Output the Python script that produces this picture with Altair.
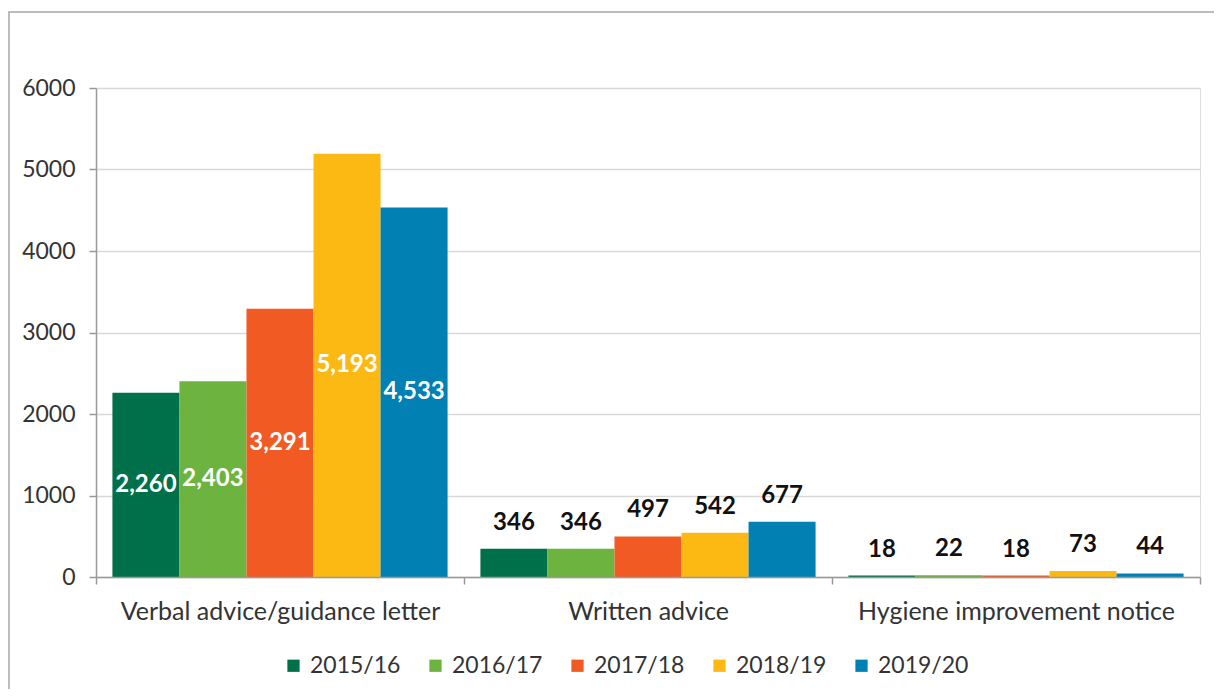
import altair as alt
import pandas as pd

categories = ["Verbal advice/guidance letter", "Written advice", "Hygiene improvement notice"]
years = ["2015/16", "2016/17", "2017/18", "2018/19", "2019/20"]
verbal = [2260, 2403, 3291, 5193, 4533]
written = [346, 346, 497, 542, 677]
hygiene = [18, 22, 18, 73, 44]
colors = ["#00704A", "#6DB33F", "#F15A22", "#FDB913", "#0080B3"]
y_ticks = [0, 1000, 2000, 3000, 4000, 5000, 6000]

rows = []
for cat, vals in zip(categories, [verbal, written, hygiene]):
    for yr, v in zip(years, vals):
        rows.append({"category": cat, "year": yr, "value": v})
df = pd.DataFrame(rows)

W, H = 1104, 489
FONT = "Lato"

x_enc = alt.X("category:N", sort=categories, title=None,
              scale=alt.Scale(paddingInner=0, paddingOuter=0),
              axis=alt.Axis(labelAngle=0, tickBand="extent", tickSize=7, tickColor="#999999",
                            tickWidth=1.5, domainColor="#999999", domainWidth=1.5,
                            labelFontSize=25, labelColor="#333333", labelPadding=15,
                            labelLimit=0, grid=False, labelFont=FONT, zindex=1))
xo_enc = alt.XOffset("year:N", sort=years, scale=alt.Scale(paddingOuter=0.245, paddingInner=0))

base = alt.Chart(df)

bars = base.mark_bar().encode(
    x=x_enc,
    xOffset=xo_enc,
    y=alt.Y("value:Q", title=None,
            scale=alt.Scale(domain=[0, 6000], nice=False),
            axis=alt.Axis(values=y_ticks, format="d", tickSize=7, tickColor="#999999",
                          tickWidth=1.5, domainColor="#999999", domainWidth=1.5,
                          gridColor="#D9D9D9", gridWidth=1.5, labelFontSize=23,
                          labelColor="#333333", labelPadding=14, labelFont=FONT)),
    color=alt.Color("year:N", sort=years, scale=alt.Scale(domain=years, range=colors),
                    legend=alt.Legend(title=None, orient="none", direction="horizontal",
                                      legendX=186, legendY=566, symbolType="square",
                                      symbolSize=150, symbolStrokeWidth=0, labelFontSize=23,
                                      labelColor="#333333", labelOffset=5, columnPadding=23,
                                      labelFont=FONT)),
)

inside = base.transform_filter(
    alt.datum.category == categories[0]
).transform_calculate(mid="datum.value / 2").mark_text(
    color="white", fontWeight="bold", fontSize=24, baseline="middle", font=FONT
).encode(
    x=alt.X("category:N", sort=categories),
    xOffset=alt.XOffset("year:N", sort=years),
    y=alt.Y("mid:Q"),
    text=alt.Text("value:Q", format=",d"),
)

above = base.transform_filter(
    alt.datum.category != categories[0]
).mark_text(
    color="#111111", fontWeight="bold", fontSize=24, baseline="middle", dy=-26, font=FONT
).encode(
    x=alt.X("category:N", sort=categories),
    xOffset=alt.XOffset("year:N", sort=years),
    y=alt.Y("value:Q"),
    text=alt.Text("value:Q", format=",d"),
)

border = alt.Chart(pd.DataFrame({"a": [0]})).mark_rect(
    fill=None, stroke="#A6A6A6", strokeWidth=1.5
).encode(
    x=alt.value(-87), x2=alt.value(W + 60),
    y=alt.value(-76), y2=alt.value(H + 300),
)

chart = alt.layer(border, bars, inside, above).properties(
    width=W, height=H,
    autosize=alt.AutoSizeParams(type="none"),
    padding={"left": 88, "top": 80, "right": 14, "bottom": 112},
).configure_view(stroke=None).configure(font=FONT)

chart.save("out.html", embed_options={"renderer": "svg", "actions": False})
